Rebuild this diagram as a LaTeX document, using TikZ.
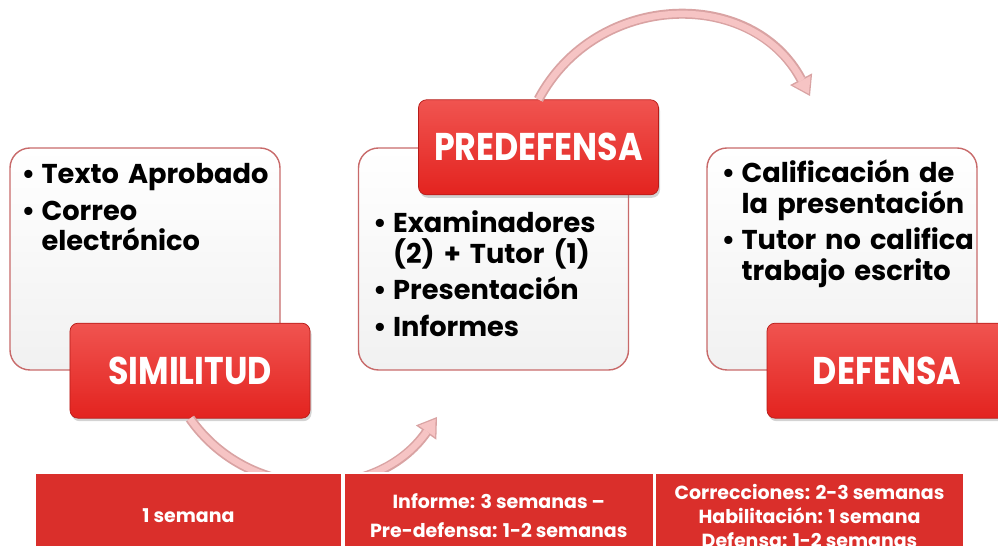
\documentclass[tikz,border=0pt]{standalone}
\usepackage{fontspec}
\setmainfont{Poppins}
\newfontfamily\headfont[FakeStretch=0.86]{Poppins}
\usetikzlibrary{positioning, shadows, arrows.meta}
\definecolor{boxred}{HTML}{E3231F}
\definecolor{boxredtop}{HTML}{F05450}
\definecolor{cardline}{HTML}{C86A6A}
\definecolor{cardbottom}{HTML}{F1F1F1}
\definecolor{tablered}{HTML}{DA2F2B}
\definecolor{arrowpink}{HTML}{F6C4C4}
\definecolor{arrowline}{HTML}{D9A3A3}

\newcommand{\bul}{\par\hangindent=0.4cm\hangafter=1\noindent\makebox[0.4cm][l]{•}}
\newcommand{\nl}{\hfil\break}

\tikzstyle{wblock} = [rectangle, draw=cardline, line width=0.8pt, top color=white, bottom color=cardbottom,
rounded corners=0.4cm, minimum width=5.4cm, minimum height=4.44cm]
\tikzstyle{rblock} = [rectangle, draw=boxred!80!black, line width=0.4pt, top color=boxredtop, bottom color=boxred,
rounded corners=0.16cm, minimum width=4.8cm, minimum height=1.9cm, text=white, font=\headfont\fontsize{22}{24}\selectfont\bfseries,
drop shadow={opacity=0.35, shadow xshift=0.03cm, shadow yshift=-0.06cm}]
\tikzstyle{btext} = [inner sep=0pt, text width=6cm, font=\fontsize{15.5}{17.5}\selectfont\bfseries,
execute at begin node=\setlength{\parskip}{0.12cm}]
\tikzstyle{tcell} = [rectangle, draw=white, line width=1pt, fill=tablered, minimum height=1.72cm, text=white,
align=center, font=\fontsize{10.8}{13.6}\selectfont\bfseries]
\tikzstyle{arrowout} = [line width=0.2cm, arrowline, -{Triangle[width=0.5cm, length=0.38cm, line width=0pt]}]
\tikzstyle{arrowin} = [line width=0.13cm, arrowpink, shorten >=0.05cm, -{Triangle[width=0.4cm, length=0.3cm, line width=0pt]}]

\begin{document}
\begin{tikzpicture}[node distance=6.97cm]
	\useasboundingbox (0,0) rectangle (19.96,10.92);
	\clip (0,0) rectangle (19.96,10.92);
	\node (SimCard) [wblock] at (2.9,5.74) {};
	\node (PreCard) [wblock, right of=SimCard] {};
	\node (DefCard) [wblock, right of=PreCard] {};
	\node (SimText) [btext, anchor=north west] at ([shift={(0.24cm,0.02cm)}]SimCard.north west) {\bul Texto Aprobado \bul Correo\nl electrónico\par};
	\node (PreText) [btext, anchor=north west] at ([shift={(0.3cm,-0.96cm)}]PreCard.north west) {\bul Examinadores\nl (2) + Tutor (1) \bul Presentación \bul Informes\par};
	\node (DefText) [btext, anchor=north west] at ([shift={(0.3cm,0.04cm)}]DefCard.north west) {\bul Calificación de\nl la presentación \bul Tutor no califica\nl trabajo escrito\par};
	\node (Simil) [rblock] at ([xshift=0.9cm]SimCard.south) {SIMILITUD};
	\node (Predef) [rblock] at ([xshift=0.9cm]PreCard.north) {PREDEFENSA};
	\node (Defensa) [rblock] at ([xshift=0.9cm]DefCard.south) {DEFENSA};

	% curved arrows
	\coordinate (TipA) at (8.74,2.58);
	\coordinate (TipB) at (16.2,9.0);
	\draw [arrowout] (Simil.south) to[out=-55, in=235, looseness=1.08] (TipA);
	\draw [arrowin] (Simil.south) to[out=-55, in=235, looseness=1.08] (TipA);
	\draw [arrowout] (Predef.north) to[out=62, in=118, looseness=1.16] (TipB);
	\draw [arrowin] (Predef.north) to[out=62, in=118, looseness=1.16] (TipB);

	% time table
	\node (WeekA) [tcell, minimum width=6.14cm] at (3.77,0.6) {1 semana};
	\node (WeekB) [tcell, minimum width=6.2cm, right=0pt of WeekA] {Informe: 3 semanas –\\[0.1cm]Pre-defensa: 1-2 semanas};
	\node (WeekC) [tcell, minimum width=6.16cm, right=0pt of WeekB] {Correcciones: 2-3 semanas\\Habilitación: 1 semana\\Defensa: 1-2 semanas};
\end{tikzpicture}
\end{document}
